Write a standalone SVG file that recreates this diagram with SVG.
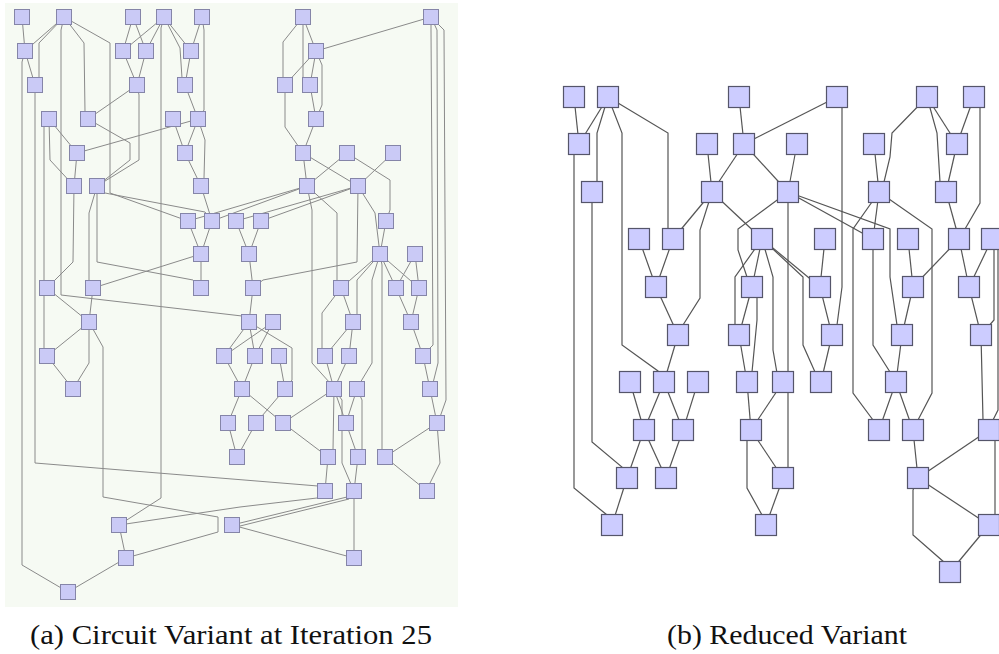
<svg xmlns="http://www.w3.org/2000/svg" width="999" height="654" viewBox="0 0 999 654">
<style>
.le{fill:none;stroke:#8a8a8a;stroke-width:1}
.re{fill:none;stroke:#555;stroke-width:1.2}
.ln{fill:#cacaf6;stroke:#8585a8;stroke-width:1}
.rn{fill:#ccccff;stroke:#55556a;stroke-width:1.2}
.cap{font-family:"Liberation Serif","DejaVu Serif",serif;font-size:28px;fill:#111}
</style>
<rect x="5" y="3" width="453" height="604" fill="#f6faf3"/>
<g id="connectors-left" class="le">
<path d="M22 17 L25 51"/><path d="M25 51 L22 62 L22 565 L68 592"/><path d="M64 17 L25 51"/><path d="M64 17 L39 43 L39 78 L35 85"/><path d="M25 51 L35 85"/>
<path d="M35 85 L35 463 L318 486 L325 491"/><path d="M64 17 L61 30 L61 295 L242 316 L249 322"/><path d="M64 17 L84 43 L85 112 L88 119"/><path d="M64 17 L110 43 L110 193 L188 221"/>
<path d="M133 17 L123 51"/><path d="M133 17 L146 51"/><path d="M164 17 L123 51"/><path d="M164 17 L146 51"/><path d="M164 17 L161 28 L161 498 L119 525"/><path d="M164 17 L191 51"/><path d="M164 17 L180 48 L182 78 L185 85"/>
<path d="M202 17 L191 51"/><path d="M202 17 L204 30 L204 110 L198 119"/><path d="M123 51 L137 85"/><path d="M146 51 L137 85"/><path d="M191 51 L185 85"/>
<path d="M137 85 L88 119"/><path d="M137 85 L139 95 L139 160 L97 186"/><path d="M185 85 L198 119"/>
<path d="M49 119 L77 153"/><path d="M49 119 L50 160 L74 186"/><path d="M49 119 L44 127 L44 282 L47 288"/><path d="M88 119 L130 143 L130 160 L97 186"/>
<path d="M173 119 L185 153"/><path d="M198 119 L185 153"/><path d="M198 119 L77 153"/><path d="M185 153 L201 186"/><path d="M198 119 L205 140 L204 178 L201 186"/>
<path d="M77 153 L74 186"/><path d="M74 186 L73 262 L47 288"/><path d="M97 186 L89 213 L89 280 L93 288"/><path d="M97 186 L97 262 L193 280 L201 288"/>
<path d="M93 288 L201 254"/><path d="M188 221 L201 254"/><path d="M212 221 L201 254"/><path d="M201 254 L201 288"/>
<path d="M47 288 L89 322"/><path d="M93 288 L89 322"/><path d="M89 322 L47 356"/><path d="M47 288 L44 296 L44 350 L47 356"/>
<path d="M89 322 L89 363 L73 389"/><path d="M89 322 L103 347 L103 497 L218 517 L218 532 L126 558"/><path d="M47 356 L73 389"/>
<path d="M119 525 L126 558"/><path d="M119 525 L240 507 L317 498 L325 491"/><path d="M232 525 L347 497 L354 491"/><path d="M232 528 L349 499 L354 491"/><path d="M232 525 L354 558"/><path d="M126 558 L68 592"/>
<path d="M303 17 L316 51"/><path d="M303 17 L283 42 L283 78 L285 85"/><path d="M303 17 L303 78 L310 85"/><path d="M431 17 L316 51"/>
<path d="M316 51 L285 85"/><path d="M316 51 L310 85"/><path d="M316 51 L322 65 L322 105 L316 119"/><path d="M310 85 L316 119"/>
<path d="M285 85 L285 127 L303 153"/><path d="M316 119 L303 153"/><path d="M303 153 L307 186"/><path d="M303 153 L358 186"/><path d="M347 153 L307 186"/><path d="M347 153 L390 180 L390 210 L386 221"/><path d="M393 153 L358 186"/>
<path d="M307 186 L188 221"/><path d="M307 186 L212 221"/><path d="M97 186 L105 193 L205 212 L212 221"/><path d="M201 186 L212 221"/><path d="M358 186 L236 221"/><path d="M358 186 L261 221"/>
<path d="M236 221 L249 254"/><path d="M261 221 L249 254"/><path d="M249 254 L253 288"/><path d="M358 186 L357 262 L263 280 L253 288"/>
<path d="M307 186 L312 210 L312 363 L330 383 L334 389"/><path d="M307 186 L337 213 L337 280 L341 288"/><path d="M358 186 L375 213 L380 254"/><path d="M386 221 L380 254"/>
<path d="M253 288 L249 322"/><path d="M249 322 L224 356"/><path d="M273 322 L224 356"/><path d="M249 322 L255 356"/><path d="M273 322 L255 356"/><path d="M249 322 L292 348 L292 380 L285 389"/>
<path d="M224 356 L242 389"/><path d="M255 356 L242 389"/><path d="M279 356 L285 389"/>
<path d="M242 389 L228 423"/><path d="M242 389 L283 423"/><path d="M285 389 L256 423"/><path d="M334 389 L283 423"/>
<path d="M228 423 L237 457"/><path d="M256 423 L237 457"/><path d="M283 423 L328 457"/><path d="M334 389 L333 450 L328 457"/><path d="M334 389 L342 400 L342 463 L354 491"/>
<path d="M334 389 L346 423"/><path d="M357 389 L346 423"/><path d="M357 389 L362 400 L362 450 L358 457"/><path d="M346 423 L358 457"/>
<path d="M380 254 L382 265 L382 450 L385 457"/><path d="M437 423 L385 457"/><path d="M437 423 L440 463 L430 483 L427 491"/><path d="M385 457 L427 491"/>
<path d="M328 457 L325 491"/><path d="M358 457 L354 491"/><path d="M354 491 L354 558"/>
<path d="M380 254 L341 288"/><path d="M380 254 L357 280 L357 315 L353 322"/><path d="M380 254 L372 280 L372 363 L360 383 L357 389"/><path d="M380 254 L396 288"/><path d="M380 254 L419 288"/><path d="M415 254 L396 288"/><path d="M415 254 L419 288"/>
<path d="M341 288 L322 313 L322 350 L325 356"/><path d="M341 288 L353 322"/><path d="M353 322 L325 356"/><path d="M353 322 L349 356"/>
<path d="M396 288 L411 322"/><path d="M419 288 L411 322"/><path d="M411 322 L423 356"/><path d="M325 356 L334 389"/><path d="M349 356 L334 389"/><path d="M423 356 L430 389"/><path d="M430 389 L437 423"/>
<path d="M431 17 L431 30 L433 345 L428 350"/><path d="M431 17 L437 30 L438 363 L433 383"/><path d="M431 17 L444 30 L446 400 L440 417"/>
</g>
<g id="connectors-right" class="re">
<path d="M574 97 L579 144"/><path d="M579 144 L574 155 L574 488 L607 515 L612 525"/><path d="M608 97 L579 144"/><path d="M608 97 L597 133 L597 182 L592 192"/>
<path d="M608 97 L622 133 L622 345 L658 371 L664 382"/><path d="M608 97 L668 133 L668 229 L673 239"/><path d="M592 192 L592 442 L622 467 L627 478"/>
<path d="M739 97 L744 144"/><path d="M707 144 L712 192"/><path d="M744 144 L712 192"/><path d="M744 144 L788 192"/><path d="M837 97 L744 144"/>
<path d="M712 192 L673 239"/><path d="M712 192 L700 230 L700 298 L683 325 L678 335"/><path d="M712 192 L762 239"/>
<path d="M639 239 L656 287"/><path d="M673 239 L656 287"/><path d="M656 287 L678 335"/>
<path d="M788 192 L738 229 L738 250 L747 277 L752 287"/><path d="M762 239 L752 287"/><path d="M762 239 L735 277 L735 330 L739 335"/>
<path d="M762 239 L773 277 L773 350 L777 373 L783 382"/><path d="M762 239 L803 277 L803 345 L815 372 L821 382"/><path d="M762 239 L820 287"/>
<path d="M752 287 L739 335"/><path d="M752 287 L757 297 L757 320 L752 372 L747 382"/><path d="M739 335 L747 382"/>
<path d="M837 97 L842 107 L842 287 L837 325 L832 335"/><path d="M797 144 L788 192"/><path d="M788 192 L788 382"/><path d="M788 382 L788 470 L783 478"/>
<path d="M788 192 L873 239"/><path d="M788 192 L890 229 L890 277 L897 325 L902 335"/>
<path d="M874 144 L879 192"/><path d="M927 97 L892 133 L890 157 L884 182 L879 192"/><path d="M927 97 L957 144"/><path d="M927 97 L937 133 L940 182 L946 192"/>
<path d="M974 97 L957 144"/><path d="M974 97 L980 107 L980 203 L965 229 L959 239"/><path d="M957 144 L946 192"/><path d="M946 192 L959 239"/>
<path d="M879 192 L873 239"/><path d="M879 192 L853 229 L853 393 L873 420 L879 430"/><path d="M879 192 L932 229 L932 393 L918 420 L913 430"/>
<path d="M825 239 L820 287"/><path d="M820 287 L832 335"/><path d="M873 239 L873 345 L890 372 L896 382"/>
<path d="M908 239 L913 287"/><path d="M959 239 L913 287"/><path d="M959 239 L969 287"/><path d="M992 239 L969 287"/><path d="M992 239 L994 250 L994 320 L981 335"/>
<path d="M913 287 L902 335"/><path d="M969 287 L981 335"/>
<path d="M678 335 L664 382"/><path d="M630 382 L644 430"/><path d="M664 382 L644 430"/><path d="M664 382 L683 430"/><path d="M698 382 L683 430"/>
<path d="M644 430 L627 478"/><path d="M644 430 L666 478"/><path d="M683 430 L666 478"/><path d="M627 478 L612 525"/>
<path d="M747 382 L751 430"/><path d="M751 430 L747 441 L747 488 L762 515 L766 525"/><path d="M751 430 L783 478"/><path d="M783 382 L751 430"/><path d="M783 478 L766 525"/>
<path d="M832 335 L821 382"/><path d="M902 335 L896 382"/><path d="M896 382 L879 430"/><path d="M896 382 L913 430"/>
<path d="M913 430 L918 478"/><path d="M989 430 L918 478"/><path d="M918 478 L989 525"/><path d="M918 478 L913 490 L913 535 L945 563 L950 572"/><path d="M989 525 L950 572"/>
<path d="M989 430 L995 441 L995 515 L989 525"/><path d="M981 335 L983 420 L989 430"/><path d="M992 239 L998 250 L998 410 L993 420"/>
</g>
<g id="L-A1"><rect class="ln" x="14.5" y="9.5" width="15" height="15"/></g>
<g id="L-A2"><rect class="ln" x="56.5" y="9.5" width="15" height="15"/></g>
<g id="L-A3"><rect class="ln" x="125.5" y="9.5" width="15" height="15"/></g>
<g id="L-A4"><rect class="ln" x="156.5" y="9.5" width="15" height="15"/></g>
<g id="L-A5"><rect class="ln" x="194.5" y="9.5" width="15" height="15"/></g>
<g id="L-A6"><rect class="ln" x="295.5" y="9.5" width="15" height="15"/></g>
<g id="L-A7"><rect class="ln" x="423.5" y="9.5" width="15" height="15"/></g>
<g id="L-B1"><rect class="ln" x="17.5" y="43.5" width="15" height="15"/></g>
<g id="L-B2"><rect class="ln" x="115.5" y="43.5" width="15" height="15"/></g>
<g id="L-B3"><rect class="ln" x="138.5" y="43.5" width="15" height="15"/></g>
<g id="L-B4"><rect class="ln" x="183.5" y="43.5" width="15" height="15"/></g>
<g id="L-B5"><rect class="ln" x="308.5" y="43.5" width="15" height="15"/></g>
<g id="L-C1"><rect class="ln" x="27.5" y="77.5" width="15" height="15"/></g>
<g id="L-C2"><rect class="ln" x="129.5" y="77.5" width="15" height="15"/></g>
<g id="L-C3"><rect class="ln" x="177.5" y="77.5" width="15" height="15"/></g>
<g id="L-C4"><rect class="ln" x="277.5" y="77.5" width="15" height="15"/></g>
<g id="L-C5"><rect class="ln" x="302.5" y="77.5" width="15" height="15"/></g>
<g id="L-D1"><rect class="ln" x="41.5" y="111.5" width="15" height="15"/></g>
<g id="L-D2"><rect class="ln" x="80.5" y="111.5" width="15" height="15"/></g>
<g id="L-D3"><rect class="ln" x="165.5" y="111.5" width="15" height="15"/></g>
<g id="L-D4"><rect class="ln" x="190.5" y="111.5" width="15" height="15"/></g>
<g id="L-D5"><rect class="ln" x="308.5" y="111.5" width="15" height="15"/></g>
<g id="L-E1"><rect class="ln" x="69.5" y="145.5" width="15" height="15"/></g>
<g id="L-E2"><rect class="ln" x="177.5" y="145.5" width="15" height="15"/></g>
<g id="L-E3"><rect class="ln" x="295.5" y="145.5" width="15" height="15"/></g>
<g id="L-E4"><rect class="ln" x="339.5" y="145.5" width="15" height="15"/></g>
<g id="L-E5"><rect class="ln" x="385.5" y="145.5" width="15" height="15"/></g>
<g id="L-F1"><rect class="ln" x="66.5" y="178.5" width="15" height="15"/></g>
<g id="L-F2"><rect class="ln" x="89.5" y="178.5" width="15" height="15"/></g>
<g id="L-F3"><rect class="ln" x="193.5" y="178.5" width="15" height="15"/></g>
<g id="L-F4"><rect class="ln" x="299.5" y="178.5" width="15" height="15"/></g>
<g id="L-F5"><rect class="ln" x="350.5" y="178.5" width="15" height="15"/></g>
<g id="L-G1"><rect class="ln" x="180.5" y="213.5" width="15" height="15"/></g>
<g id="L-G2"><rect class="ln" x="204.5" y="213.5" width="15" height="15"/></g>
<g id="L-G3"><rect class="ln" x="228.5" y="213.5" width="15" height="15"/></g>
<g id="L-G4"><rect class="ln" x="253.5" y="213.5" width="15" height="15"/></g>
<g id="L-G5"><rect class="ln" x="378.5" y="213.5" width="15" height="15"/></g>
<g id="L-H1"><rect class="ln" x="193.5" y="246.5" width="15" height="15"/></g>
<g id="L-H2"><rect class="ln" x="241.5" y="246.5" width="15" height="15"/></g>
<g id="L-H3"><rect class="ln" x="372.5" y="246.5" width="15" height="15"/></g>
<g id="L-H4"><rect class="ln" x="407.5" y="246.5" width="15" height="15"/></g>
<g id="L-I1"><rect class="ln" x="39.5" y="280.5" width="15" height="15"/></g>
<g id="L-I2"><rect class="ln" x="85.5" y="280.5" width="15" height="15"/></g>
<g id="L-I3"><rect class="ln" x="193.5" y="280.5" width="15" height="15"/></g>
<g id="L-I4"><rect class="ln" x="245.5" y="280.5" width="15" height="15"/></g>
<g id="L-I5"><rect class="ln" x="333.5" y="280.5" width="15" height="15"/></g>
<g id="L-I6"><rect class="ln" x="388.5" y="280.5" width="15" height="15"/></g>
<g id="L-I7"><rect class="ln" x="411.5" y="280.5" width="15" height="15"/></g>
<g id="L-J1"><rect class="ln" x="81.5" y="314.5" width="15" height="15"/></g>
<g id="L-J2"><rect class="ln" x="241.5" y="314.5" width="15" height="15"/></g>
<g id="L-J3"><rect class="ln" x="265.5" y="314.5" width="15" height="15"/></g>
<g id="L-J4"><rect class="ln" x="345.5" y="314.5" width="15" height="15"/></g>
<g id="L-J5"><rect class="ln" x="403.5" y="314.5" width="15" height="15"/></g>
<g id="L-K1"><rect class="ln" x="39.5" y="348.5" width="15" height="15"/></g>
<g id="L-K2"><rect class="ln" x="216.5" y="348.5" width="15" height="15"/></g>
<g id="L-K3"><rect class="ln" x="247.5" y="348.5" width="15" height="15"/></g>
<g id="L-K4"><rect class="ln" x="271.5" y="348.5" width="15" height="15"/></g>
<g id="L-K5"><rect class="ln" x="317.5" y="348.5" width="15" height="15"/></g>
<g id="L-K6"><rect class="ln" x="341.5" y="348.5" width="15" height="15"/></g>
<g id="L-K7"><rect class="ln" x="415.5" y="348.5" width="15" height="15"/></g>
<g id="L-L1"><rect class="ln" x="65.5" y="381.5" width="15" height="15"/></g>
<g id="L-L2"><rect class="ln" x="234.5" y="381.5" width="15" height="15"/></g>
<g id="L-L3"><rect class="ln" x="277.5" y="381.5" width="15" height="15"/></g>
<g id="L-L4"><rect class="ln" x="326.5" y="381.5" width="15" height="15"/></g>
<g id="L-L5"><rect class="ln" x="349.5" y="381.5" width="15" height="15"/></g>
<g id="L-L6"><rect class="ln" x="422.5" y="381.5" width="15" height="15"/></g>
<g id="L-M1"><rect class="ln" x="220.5" y="415.5" width="15" height="15"/></g>
<g id="L-M2"><rect class="ln" x="248.5" y="415.5" width="15" height="15"/></g>
<g id="L-M3"><rect class="ln" x="275.5" y="415.5" width="15" height="15"/></g>
<g id="L-M4"><rect class="ln" x="338.5" y="415.5" width="15" height="15"/></g>
<g id="L-M5"><rect class="ln" x="429.5" y="415.5" width="15" height="15"/></g>
<g id="L-N1"><rect class="ln" x="229.5" y="449.5" width="15" height="15"/></g>
<g id="L-N2"><rect class="ln" x="320.5" y="449.5" width="15" height="15"/></g>
<g id="L-N3"><rect class="ln" x="350.5" y="449.5" width="15" height="15"/></g>
<g id="L-N4"><rect class="ln" x="377.5" y="449.5" width="15" height="15"/></g>
<g id="L-O1"><rect class="ln" x="317.5" y="483.5" width="15" height="15"/></g>
<g id="L-O2"><rect class="ln" x="346.5" y="483.5" width="15" height="15"/></g>
<g id="L-O3"><rect class="ln" x="419.5" y="483.5" width="15" height="15"/></g>
<g id="L-P1"><rect class="ln" x="111.5" y="517.5" width="15" height="15"/></g>
<g id="L-P2"><rect class="ln" x="224.5" y="517.5" width="15" height="15"/></g>
<g id="L-Q1"><rect class="ln" x="118.5" y="550.5" width="15" height="15"/></g>
<g id="L-Q2"><rect class="ln" x="346.5" y="550.5" width="15" height="15"/></g>
<g id="L-R1"><rect class="ln" x="60.5" y="584.5" width="15" height="15"/></g>
<g id="R-a1"><rect class="rn" x="563.5" y="86.5" width="21" height="21"/></g>
<g id="R-a2"><rect class="rn" x="597.5" y="86.5" width="21" height="21"/></g>
<g id="R-a3"><rect class="rn" x="728.5" y="86.5" width="21" height="21"/></g>
<g id="R-a4"><rect class="rn" x="826.5" y="86.5" width="21" height="21"/></g>
<g id="R-a5"><rect class="rn" x="916.5" y="86.5" width="21" height="21"/></g>
<g id="R-a6"><rect class="rn" x="963.5" y="86.5" width="21" height="21"/></g>
<g id="R-b1"><rect class="rn" x="568.5" y="133.5" width="21" height="21"/></g>
<g id="R-b2"><rect class="rn" x="696.5" y="133.5" width="21" height="21"/></g>
<g id="R-b3"><rect class="rn" x="733.5" y="133.5" width="21" height="21"/></g>
<g id="R-b4"><rect class="rn" x="786.5" y="133.5" width="21" height="21"/></g>
<g id="R-b5"><rect class="rn" x="863.5" y="133.5" width="21" height="21"/></g>
<g id="R-b6"><rect class="rn" x="946.5" y="133.5" width="21" height="21"/></g>
<g id="R-c1"><rect class="rn" x="581.5" y="181.5" width="21" height="21"/></g>
<g id="R-c2"><rect class="rn" x="701.5" y="181.5" width="21" height="21"/></g>
<g id="R-c3"><rect class="rn" x="777.5" y="181.5" width="21" height="21"/></g>
<g id="R-c4"><rect class="rn" x="868.5" y="181.5" width="21" height="21"/></g>
<g id="R-c5"><rect class="rn" x="935.5" y="181.5" width="21" height="21"/></g>
<g id="R-d1"><rect class="rn" x="628.5" y="228.5" width="21" height="21"/></g>
<g id="R-d2"><rect class="rn" x="662.5" y="228.5" width="21" height="21"/></g>
<g id="R-d3"><rect class="rn" x="751.5" y="228.5" width="21" height="21"/></g>
<g id="R-d4"><rect class="rn" x="814.5" y="228.5" width="21" height="21"/></g>
<g id="R-d5"><rect class="rn" x="862.5" y="228.5" width="21" height="21"/></g>
<g id="R-d6"><rect class="rn" x="897.5" y="228.5" width="21" height="21"/></g>
<g id="R-d7"><rect class="rn" x="948.5" y="228.5" width="21" height="21"/></g>
<g id="R-d8"><rect class="rn" x="981.5" y="228.5" width="21" height="21"/></g>
<g id="R-e1"><rect class="rn" x="645.5" y="276.5" width="21" height="21"/></g>
<g id="R-e2"><rect class="rn" x="741.5" y="276.5" width="21" height="21"/></g>
<g id="R-e3"><rect class="rn" x="809.5" y="276.5" width="21" height="21"/></g>
<g id="R-e4"><rect class="rn" x="902.5" y="276.5" width="21" height="21"/></g>
<g id="R-e5"><rect class="rn" x="958.5" y="276.5" width="21" height="21"/></g>
<g id="R-f1"><rect class="rn" x="667.5" y="324.5" width="21" height="21"/></g>
<g id="R-f2"><rect class="rn" x="728.5" y="324.5" width="21" height="21"/></g>
<g id="R-f3"><rect class="rn" x="821.5" y="324.5" width="21" height="21"/></g>
<g id="R-f4"><rect class="rn" x="891.5" y="324.5" width="21" height="21"/></g>
<g id="R-f5"><rect class="rn" x="970.5" y="324.5" width="21" height="21"/></g>
<g id="R-g1"><rect class="rn" x="619.5" y="371.5" width="21" height="21"/></g>
<g id="R-g2"><rect class="rn" x="653.5" y="371.5" width="21" height="21"/></g>
<g id="R-g3"><rect class="rn" x="687.5" y="371.5" width="21" height="21"/></g>
<g id="R-g4"><rect class="rn" x="736.5" y="371.5" width="21" height="21"/></g>
<g id="R-g5"><rect class="rn" x="772.5" y="371.5" width="21" height="21"/></g>
<g id="R-g6"><rect class="rn" x="810.5" y="371.5" width="21" height="21"/></g>
<g id="R-g7"><rect class="rn" x="885.5" y="371.5" width="21" height="21"/></g>
<g id="R-h1"><rect class="rn" x="633.5" y="419.5" width="21" height="21"/></g>
<g id="R-h2"><rect class="rn" x="672.5" y="419.5" width="21" height="21"/></g>
<g id="R-h3"><rect class="rn" x="740.5" y="419.5" width="21" height="21"/></g>
<g id="R-h4"><rect class="rn" x="868.5" y="419.5" width="21" height="21"/></g>
<g id="R-h5"><rect class="rn" x="902.5" y="419.5" width="21" height="21"/></g>
<g id="R-h6"><rect class="rn" x="978.5" y="419.5" width="21" height="21"/></g>
<g id="R-i1"><rect class="rn" x="616.5" y="467.5" width="21" height="21"/></g>
<g id="R-i2"><rect class="rn" x="655.5" y="467.5" width="21" height="21"/></g>
<g id="R-i3"><rect class="rn" x="772.5" y="467.5" width="21" height="21"/></g>
<g id="R-i4"><rect class="rn" x="907.5" y="467.5" width="21" height="21"/></g>
<g id="R-j1"><rect class="rn" x="601.5" y="514.5" width="21" height="21"/></g>
<g id="R-j2"><rect class="rn" x="755.5" y="514.5" width="21" height="21"/></g>
<g id="R-j3"><rect class="rn" x="978.5" y="514.5" width="21" height="21"/></g>
<g id="R-k1"><rect class="rn" x="939.5" y="561.5" width="21" height="21"/></g>
<text class="cap" x="30" y="644" textLength="402" lengthAdjust="spacingAndGlyphs">(a) Circuit Variant at Iteration 25</text>
<text class="cap" x="667" y="644" textLength="240" lengthAdjust="spacingAndGlyphs">(b) Reduced Variant</text>
</svg>
